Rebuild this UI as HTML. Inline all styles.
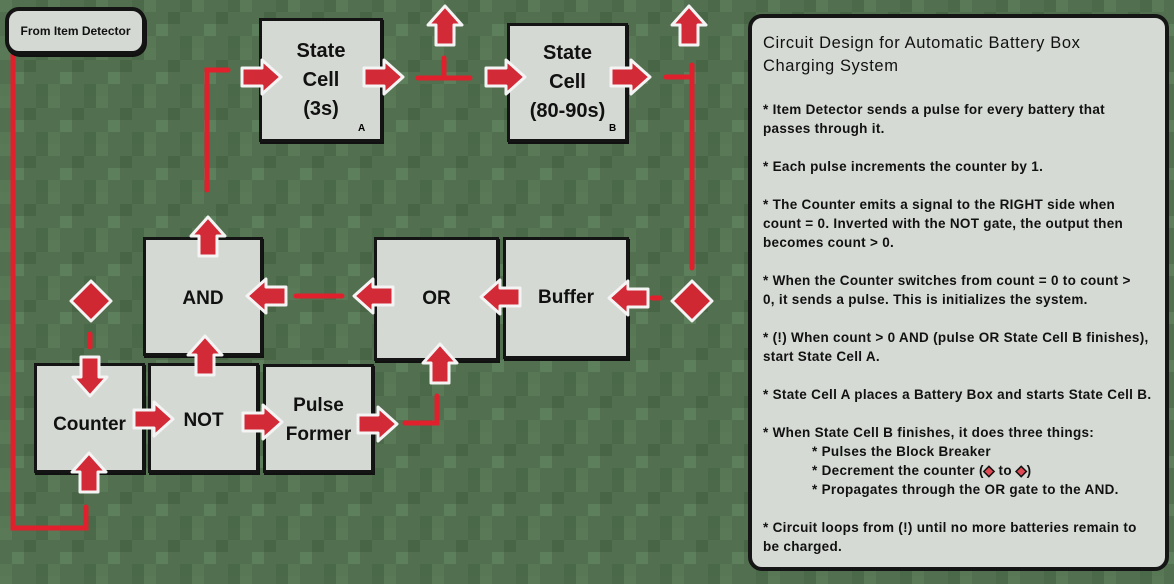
<!DOCTYPE html>
<html><head><meta charset="utf-8"><style>
*{margin:0;padding:0;box-sizing:border-box}
body{width:1174px;height:584px;overflow:hidden;position:relative;background:#52704f;font-family:"Liberation Sans",sans-serif}
.box{position:absolute;background:#d4d9d3;border:3px solid #141414;box-shadow:1px 2px 0 #111;display:flex;align-items:center;justify-content:center;text-align:center;font-weight:bold;font-size:19px;line-height:29px;color:#111}
.sm{position:absolute;font-size:10px;font-weight:bold}
#panel{position:absolute;left:748px;top:14px;width:421px;height:557px;background:#d5dad4;border:4px solid #151515;border-radius:14px}
.t{position:absolute;left:763px;white-space:nowrap;font-size:13.5px;letter-spacing:0.3px;font-weight:bold;color:#111}
.h{font-size:16.5px;font-weight:normal;letter-spacing:0.6px}
svg{position:absolute;left:0;top:0}
</style></head><body>
<svg width="1174" height="584">
<defs>
<pattern id="p" width="48" height="48" patternUnits="userSpaceOnUse">
<rect width="48" height="48" fill="#52704f"/>
<rect x="0" y="0" width="12" height="12" fill="#5a7a57"/><rect x="24" y="12" width="12" height="12" fill="#486646"/>
<rect x="12" y="24" width="12" height="12" fill="#5e7f5b"/><rect x="36" y="36" width="12" height="12" fill="#4a6948"/>
<rect x="36" y="0" width="12" height="12" fill="#4c6a4a"/><rect x="0" y="36" width="12" height="12" fill="#587755"/>
</pattern>
<path id="ar" d="M0,-9 L20,-9 L20,-17 L39,0 L20,17 L20,9 L0,9 Z" fill="#d22a36" stroke="#f4f4f4" stroke-width="3" stroke-linejoin="round"/>
<path id="dm" d="M0,-20 L20,0 L0,20 L-20,0 Z" fill="#cf2832" stroke="#f4f4f4" stroke-width="3" stroke-linejoin="round"/>
</defs>
<rect width="1174" height="584" fill="url(#p)"/>
<g stroke="#e0202c" stroke-width="5" fill="none" stroke-linecap="round">
<polyline points="13,55 13,528 86,528 86,507"/>
<polyline points="207,190 207,70 228,70"/>
<line x1="418" y1="78" x2="470" y2="78"/><line x1="444" y1="58" x2="444" y2="78"/>
<polyline points="666,77 692,77"/><line x1="692" y1="65" x2="692" y2="268"/>
<line x1="652" y1="298" x2="660" y2="298"/>
<line x1="296" y1="296" x2="342" y2="296"/>
<line x1="90" y1="334" x2="90" y2="347"/>
<polyline points="405,423 437,423 437,396"/>
</g>
</svg>
<div class="box" style="left:5px;top:7px;width:141px;height:48px;border-radius:14px;border-width:4px;font-size:12px;line-height:14px">From Item Detector</div>
<div class="box" style="left:259px;top:18px;width:124px;height:124px;font-size:20px">State<br>Cell<br>(3s)</div><div class="sm" style="left:358px;top:123px">A</div>
<div class="box" style="left:507px;top:23px;width:121px;height:119px;font-size:20px">State<br>Cell<br>(80-90s)</div><div class="sm" style="left:609px;top:123px">B</div>
<div class="box" style="left:143px;top:237px;width:120px;height:119px"><span style="position:absolute;top:44px">AND</span></div>
<div class="box" style="left:374px;top:237px;width:125px;height:124px"><span style="position:absolute;top:44px">OR</span></div>
<div class="box" style="left:503px;top:237px;width:126px;height:122px"><span style="position:absolute;top:43px">Buffer</span></div>
<div class="box" style="left:34px;top:363px;width:111px;height:110px"><span style="position:absolute;top:44px">Counter</span></div>
<div class="box" style="left:148px;top:363px;width:111px;height:110px"><span style="position:absolute;top:40px">NOT</span></div>
<div class="box" style="left:263px;top:364px;width:111px;height:109px"><span style="position:absolute;top:24px">Pulse<br>Former</span></div>
<svg width="1174" height="584">
<use href="#ar" transform="translate(242,77)"/>
<use href="#ar" transform="translate(364,77)"/>
<use href="#ar" transform="translate(445,45) rotate(-90)"/>
<use href="#ar" transform="translate(486,77)"/>
<use href="#ar" transform="translate(611,77)"/>
<use href="#ar" transform="translate(689,45) rotate(-90)"/>
<use href="#ar" transform="translate(648,298) rotate(180)"/>
<use href="#ar" transform="translate(520,297) rotate(180)"/>
<use href="#ar" transform="translate(286,296) rotate(180)"/>
<use href="#ar" transform="translate(393,296) rotate(180)"/>
<use href="#ar" transform="translate(208,256) rotate(-90)"/>
<use href="#ar" transform="translate(205,375) rotate(-90)"/>
<use href="#ar" transform="translate(90,357) rotate(90)"/>
<use href="#ar" transform="translate(89,492) rotate(-90)"/>
<use href="#ar" transform="translate(134,419)"/>
<use href="#ar" transform="translate(243,422)"/>
<use href="#ar" transform="translate(358,424)"/>
<use href="#ar" transform="translate(440,383) rotate(-90)"/>
<use href="#dm" transform="translate(91,301)"/>
<use href="#dm" transform="translate(692,301)"/>
</svg>
<div id="panel"></div>
<div class="t h" style="top:34px">Circuit Design for Automatic Battery Box</div>
<div class="t h" style="top:57px">Charging System</div>
<div class="t" style="top:102px">* Item Detector sends a pulse for every battery that</div>
<div class="t" style="top:121px">passes through it.</div>
<div class="t" style="top:159px">* Each pulse increments the counter by 1.</div>
<div class="t" style="top:197px">* The Counter emits a signal to the RIGHT side when</div>
<div class="t" style="top:216px">count = 0. Inverted with the NOT gate, the output then</div>
<div class="t" style="top:235px">becomes count &gt; 0.</div>
<div class="t" style="top:273px">* When the Counter switches from count = 0 to count &gt;</div>
<div class="t" style="top:292px">0, it sends a pulse. This is initializes the system.</div>
<div class="t" style="top:330px">* (!) When count &gt; 0 AND (pulse OR State Cell B finishes),</div>
<div class="t" style="top:349px">start State Cell A.</div>
<div class="t" style="top:387px">* State Cell A places a Battery Box and starts State Cell B.</div>
<div class="t" style="top:425px">* When State Cell B finishes, it does three things:</div>
<div class="t" style="top:444px;left:812px">* Pulses the Block Breaker</div>
<div class="t" style="top:463px;left:812px">* Decrement the counter (<span style="color:#e04a55;-webkit-text-stroke:1px #111">◆</span> to <span style="color:#e04a55;-webkit-text-stroke:1px #111">◆</span>)</div>
<div class="t" style="top:482px;left:812px">* Propagates through the OR gate to the AND.</div>
<div class="t" style="top:520px">* Circuit loops from (!) until no more batteries remain to</div>
<div class="t" style="top:539px">be charged.</div>
</body></html>
